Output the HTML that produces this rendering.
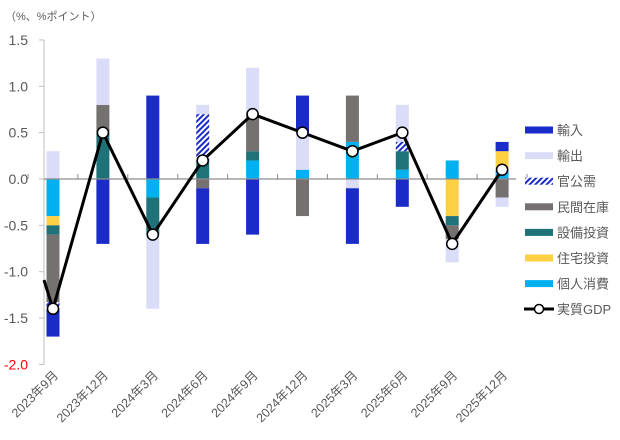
<!DOCTYPE html>
<html><head><meta charset="utf-8"><style>
html,body{margin:0;padding:0;background:#fff;}
svg{display:block;font-family:"Liberation Sans","Noto Sans CJK JP",sans-serif;}
</style></head><body>
<svg id="c" width="620" height="440" xmlns="http://www.w3.org/2000/svg">
<defs>
<pattern id="h" patternUnits="userSpaceOnUse" width="4" height="4" patternTransform="rotate(45)">
<rect width="4" height="4" fill="#fff"/><rect width="2" height="4" fill="#1a2bc8"/>
</pattern>
</defs>
<text x="5" y="20" font-size="11" fill="#595959">（%、%ポイント）</text>
<g id="g"></g>
</svg>
<script>
var g=document.getElementById('g'),ns='http://www.w3.org/2000/svg';
function el(t,a,txt){var e=document.createElementNS(ns,t);for(var k in a)e.setAttribute(k,a[k]);if(txt)e.textContent=txt;g.appendChild(e);return e;}
function Y(v){return 179-92.7*v;}
var C={imp:'#1a2bc8',exp:'#dadcf8',pub:'url(#h)',inv:'#767171',cap:'#1f7278',hou:'#ffd043',con:'#00b0f0'};
// y axis
el('line',{x1:44,y1:40,x2:44,y2:365,stroke:'#bfbfbf','stroke-width':1});
var labs=['1.5','1.0','0.5','0.0','-0.5','-1.0','-1.5','-2.0'];
for(var i=0;i<8;i++){var v=1.5-0.5*i,y=Y(v);
el('line',{x1:39,y1:y,x2:44,y2:y,stroke:'#bfbfbf'});
el('text',{x:28,y:y+5,'font-size':14,'text-anchor':'end',fill:i==7?'#ff0000':'#595959'},labs[i]);}
var data=[
[[['exp',0,0.3]],[['con',0,-0.4],['hou',-0.4,-0.5],['cap',-0.5,-0.6],['inv',-0.6,-1.33],['pub',-1.33,-1.4],['imp',-1.4,-1.7]]],
[[['cap',0,0.5],['inv',0.5,0.8],['exp',0.8,1.3]],[['imp',0,-0.7]]],
[[['imp',0,0.9]],[['con',0,-0.2],['cap',-0.2,-0.6],['exp',-0.6,-1.4]]],
[[['cap',0,0.2],['pub',0.2,0.7],['exp',0.7,0.8]],[['inv',0,-0.1],['imp',-0.1,-0.7]]],
[[['con',0,0.2],['cap',0.2,0.3],['inv',0.3,0.7],['exp',0.7,1.2]],[['imp',0,-0.6]]],
[[['con',0,0.1],['exp',0.1,0.5],['imp',0.5,0.9]],[['inv',0,-0.4]]],
[[['con',0,0.4],['inv',0.4,0.9]],[['exp',0,-0.1],['imp',-0.1,-0.7]]],
[[['con',0,0.1],['cap',0.1,0.3],['pub',0.3,0.4],['exp',0.4,0.8]],[['imp',0,-0.3]]],
[[['con',0,0.2]],[['hou',0,-0.4],['cap',-0.4,-0.5],['inv',-0.5,-0.65],['exp',-0.65,-0.9]]],
[[['con',0,0.1],['hou',0.1,0.3],['imp',0.3,0.4]],[['inv',0,-0.2],['exp',-0.2,-0.3]]]];
var gdp=[-1.4,0.5,-0.6,0.2,0.7,0.5,0.3,0.5,-0.7,0.1];
var xl=['2023年9月','2023年12月','2024年3月','2024年6月','2024年9月','2024年12月','2025年3月','2025年6月','2025年9月','2025年12月'];
function cx(i){return 53+49.9*i;}
for(var i=0;i<10;i++){
data[i].forEach(function(s){s.forEach(function(b){var a=Y(b[1]),c=Y(b[2]);
el('rect',{x:cx(i)-6.5,y:Math.min(a,c),width:13,height:Math.abs(a-c),fill:C[b[0]]});});});
}
el('line',{x1:44,y1:179,x2:516,y2:179,stroke:'#8c8c8c','stroke-width':1.3});
for(var i=0;i<=10;i++){var x=28+49.9*i;el('line',{x1:x,y1:174,x2:x,y2:179,stroke:'#8c8c8c'});}
var pts='44,'+Y(-1.09)+' ';for(var i=0;i<10;i++)pts+=cx(i)+','+Y(gdp[i])+' ';
el('polyline',{points:pts,fill:'none',stroke:'#000','stroke-width':3,'stroke-linejoin':'round'});
for(var i=0;i<10;i++)el('circle',{cx:cx(i),cy:Y(gdp[i]),r:5.5,fill:'#fff',stroke:'#000','stroke-width':1.5});
for(var i=0;i<10;i++){var x=cx(i)+6,y=376;
el('text',{x:x,y:y,'font-size':12.5,'text-anchor':'end',fill:'#595959',transform:'rotate(-45 '+x+' '+y+')'},xl[i]);}
// legend
var L=[['imp','輸入'],['exp','輸出'],['pub','官公需'],['inv','民間在庫'],['cap','設備投資'],['hou','住宅投資'],['con','個人消費']];
for(var i=0;i<7;i++){var y=130+25.6*i;
el('rect',{x:525,y:y-3.5,width:28,height:7,fill:C[L[i][0]]});
el('text',{x:557,y:y+5,'font-size':13,fill:'#595959'},L[i][1]);}
var y=309;
el('line',{x1:524,y1:y,x2:554,y2:y,stroke:'#000','stroke-width':3});
el('circle',{cx:539,cy:y,r:4.5,fill:'#fff',stroke:'#000','stroke-width':1.5});
el('text',{x:557,y:y+5,'font-size':13,fill:'#595959'},'実質GDP');
</script>
</body></html>
